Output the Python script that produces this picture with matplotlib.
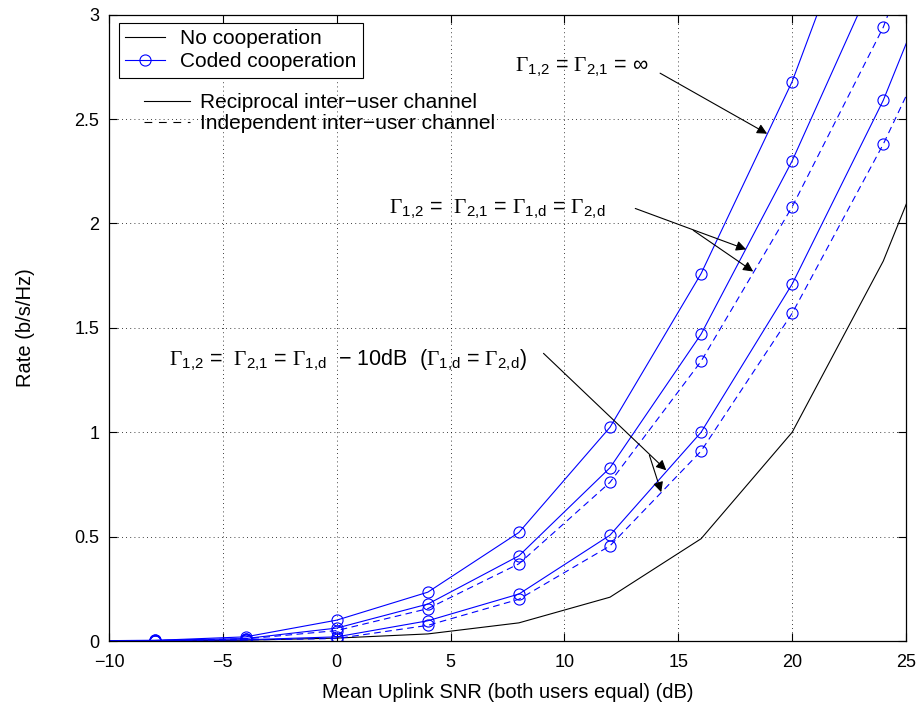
import matplotlib
matplotlib.use("Agg")
import matplotlib.pyplot as plt
from matplotlib.lines import Line2D

plt.rcParams['font.family'] = ['Liberation Sans', 'DejaVu Sans']
plt.rcParams['mathtext.fontset'] = 'custom'
plt.rcParams['mathtext.rm'] = 'Liberation Sans'
plt.rcParams['mathtext.it'] = 'Liberation Sans'
plt.rcParams['mathtext.cal'] = 'Liberation Serif'

# SNR grid (the first and last points are outside the visible range)
snr = [-12, -8, -4, 0, 4, 8, 12, 16, 20, 24, 28]

# Rates (b/s/Hz)
no_coop = [0.0005, 0.001, 0.004, 0.014, 0.034, 0.087, 0.21, 0.49, 1.0, 1.82, 2.9]
inf_recip = [0.001, 0.003, 0.02, 0.10, 0.234, 0.52, 1.024, 1.76, 2.68, 3.85, 5.0]
eq_recip = [0.001, 0.003, 0.012, 0.062, 0.177, 0.408, 0.83, 1.47, 2.30, 3.27, 4.3]
eq_indep = [0.001, 0.002, 0.01, 0.05, 0.155, 0.37, 0.76, 1.34, 2.08, 2.94, 4.1]
m10_recip = [0.0005, 0.002, 0.006, 0.02, 0.097, 0.225, 0.507, 1.0, 1.71, 2.59, 3.67]
m10_indep = [0.0005, 0.002, 0.005, 0.012, 0.075, 0.20, 0.456, 0.91, 1.57, 2.38, 3.3]

blue = (0, 0, 1)
fs = 14.5
fs_leg = 15
fs_ann = 15.5

fig = plt.figure(figsize=(9.19, 7.08), dpi=100)
ax = fig.add_axes([0.1186, 0.0946, 0.8673, 0.8846])

ax.plot(snr, no_coop, color='k', lw=0.8)
for y in [inf_recip, eq_recip, m10_recip]:
    ax.plot(snr, y, color=blue, lw=0.8, marker='o', ms=8, mfc='none', mew=0.8)
for y in [eq_indep, m10_indep]:
    ax.plot(snr, y, color=blue, lw=0.8, ls=(0, (6, 4)), marker='o', ms=8,
            mfc='none', mew=0.8)

ax.set_xlim(-10, 25)
ax.set_ylim(0, 3)
ax.set_xticks([-10, -5, 0, 5, 10, 15, 20, 25])
ax.set_yticks([0, 0.5, 1, 1.5, 2, 2.5, 3])
ax.set_yticklabels(['0', '0.5', '1', '1.5', '2', '2.5', '3'])
ax.tick_params(direction='in', top=True, right=True, labelsize=13, length=6,
               width=0.8)
ax.tick_params(axis='x', pad=9)
ax.tick_params(axis='y', pad=7)
ax.grid(True, color='k', ls=(0, (1, 4)), lw=0.6)
for s in ax.spines.values():
    s.set_linewidth(0.9)

ax.set_xlabel('Mean Uplink SNR (both users equal) (dB)', fontsize=fs, labelpad=9)
ax.set_ylabel('Rate (b/s/Hz)', fontsize=fs, labelpad=28)

# legends
h1 = [Line2D([], [], color='k', lw=0.8),
      Line2D([], [], color=blue, lw=0.8, marker='o', ms=8, mfc='none', mew=0.8)]
leg1 = ax.legend(h1, ['No cooperation', 'Coded cooperation'], loc='upper left',
                 bbox_to_anchor=(0.0125, 0.987), borderaxespad=0, fontsize=fs_leg,
                 frameon=True, fancybox=False, handlelength=1.9,
                 handletextpad=0.75, labelspacing=0.2, borderpad=0.3)
leg1.get_frame().set_edgecolor('k')
leg1.get_frame().set_linewidth(0.8)
leg1.get_frame().set_alpha(1)
ax.add_artist(leg1)

h2 = [Line2D([], [], color='k', lw=0.8),
      Line2D([], [], color='k', lw=0.8, ls=(0, (7, 6)))]
ax.legend(h2, ['Reciprocal inter\u2212user channel', 'Independent inter\u2212user channel'],
          loc='upper left', bbox_to_anchor=(0.034, 0.888), borderaxespad=0,
          fontsize=fs_leg, frameon=False, handlelength=2.2, handletextpad=0.45,
          labelspacing=0.1)

G = r'\mathcal{\Gamma}'
arrow = dict(arrowstyle='-|>', color='k', lw=0.8, mutation_scale=15,
             shrinkA=0, shrinkB=0)

# annotations
ax.text(7.85, 2.75, r'$%s_{1{,}2}$ = $%s_{2{,}1}$ = $\infty$' % (G, G), fontsize=fs_ann,
        va='center', ha='left')
ax.annotate('', xy=(18.9, 2.43), xytext=(14.2, 2.72), arrowprops=arrow)

ax.text(2.28, 2.07,
        r'$%s_{1{,}2}$ =  $%s_{2{,}1}$ = $%s_{1{,}d}$ = $%s_{2{,}d}$' % (G, G, G, G),
        fontsize=fs_ann, va='center', ha='left')
ax.annotate('', xy=(17.98, 1.876), xytext=(13.11, 2.072), arrowprops=arrow)
ax.annotate('', xy=(18.29, 1.770), xytext=(15.66, 1.967), arrowprops=arrow)

label3 = (r'$%s_{1{,}2}$ =  $%s_{2{,}1}$ = $%s_{1{,}d}$ ' % (G, G, G) + ' \u2212 10dB  ('
          + r'$%s_{1{,}d}$ = $%s_{2{,}d}$)' % (G, G))
ax.text(-7.37, 1.344, label3, fontsize=fs_ann, va='center', ha='left')
ax.annotate('', xy=(14.47, 0.818), xytext=(9.08, 1.378), arrowprops=arrow)
ax.annotate('', xy=(14.25, 0.713), xytext=(13.73, 0.89), arrowprops=arrow)

fig.savefig('out.png', dpi=100)
